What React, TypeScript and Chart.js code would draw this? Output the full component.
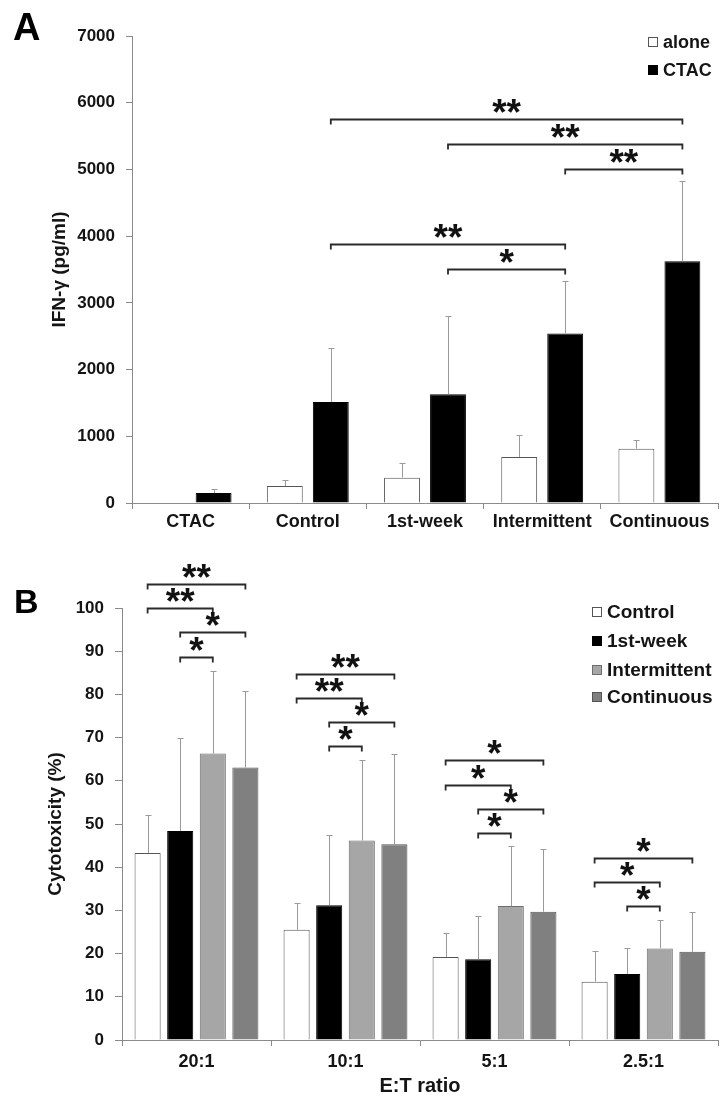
import React, { useEffect, useRef } from 'react';
import { Chart, registerables } from 'chart.js';

Chart.register(...registerables);

const FONT = '"Liberation Sans", Arial, Helvetica, sans-serif';

// ---------- Panel A data ----------
const aCategories = ['CTAC', 'Control', '1st-week', 'Intermittent', 'Continuous'];
const aSeriesNames = ['alone', 'CTAC'];
const aAlone = [0, 255, 380, 690, 815];
const aAloneErr = [0, 85, 220, 325, 125];
const aCtac = [150, 1515, 1630, 2540, 3625];
const aCtacErr = [65, 810, 1170, 785, 1200];
// [fromCategory, toCategory, yValue, label] (between CTAC bars)
const aBrackets: [number, number, number, string][] = [
  [1, 4, 5750, '**'],
  [2, 4, 5380, '**'],
  [3, 4, 5010, '**'],
  [1, 3, 3880, '**'],
  [2, 3, 3510, '*'],
];

// ---------- Panel B data ----------
const bCategories = ['20:1', '10:1', '5:1', '2.5:1'];
const bSeriesNames = ['Control', '1st-week', 'Intermittent', 'Continuous'];
const bControl = [43.3, 25.5, 19.2, 13.5];
const bControlErr = [8.7, 6.3, 5.6, 7.0];
const bFirstWeek = [48.4, 31.2, 18.7, 15.3];
const bFirstWeekErr = [21.6, 16.2, 10.1, 5.9];
const bIntermittent = [66.3, 46.2, 31.0, 21.2];
const bIntermittentErr = [19.2, 18.7, 13.8, 6.6];
const bContinuous = [63.1, 45.3, 29.7, 20.4];
const bContinuousErr = [17.7, 20.8, 14.5, 9.2];
// [category, fromSeries, toSeries, yValue, label]
const bBrackets: [number, number, number, number, string][] = [
  [0, 0, 3, 105.6, '**'],
  [0, 0, 2, 100.0, '**'],
  [0, 1, 3, 94.4, '*'],
  [0, 1, 2, 88.7, '*'],
  [1, 0, 3, 84.7, '**'],
  [1, 0, 2, 79.2, '**'],
  [1, 1, 3, 73.5, '*'],
  [1, 1, 2, 68.0, '*'],
  [2, 0, 3, 64.7, '*'],
  [2, 0, 2, 59.1, '*'],
  [2, 1, 3, 53.4, '*'],
  [2, 1, 2, 47.9, '*'],
  [3, 0, 3, 42.1, '*'],
  [3, 0, 2, 36.6, '*'],
  [3, 1, 2, 31.0, '*'],
];

const TEXT = '#141414';
const AXIS = '#8a8a8a';

const errorBarPlugin = {
  id: 'errorBars',
  afterDatasetsDraw(chart: any) {
    const ctx = chart.ctx;
    const y = chart.scales.y;
    ctx.save();
    ctx.strokeStyle = '#9a9a9a';
    ctx.lineWidth = 1;
    chart.data.datasets.forEach((ds: any, di: number) => {
      const meta = chart.getDatasetMeta(di);
      meta.data.forEach((bar: any, i: number) => {
        const v = ds.data[i];
        const e = ds.errors ? ds.errors[i] : 0;
        if (!e) return;
        const x = Math.round(bar.x) + 0.5;
        const y0 = y.getPixelForValue(v);
        const y1 = Math.round(y.getPixelForValue(v + e)) + 0.5;
        ctx.beginPath();
        ctx.moveTo(x, y0);
        ctx.lineTo(x, y1);
        ctx.moveTo(x - 3, y1);
        ctx.lineTo(x + 3, y1);
        ctx.stroke();
      });
    });
    ctx.restore();
  },
};

function drawBracket(ctx: CanvasRenderingContext2D, x1: number, x2: number, yp: number, label: string) {
  const y = Math.round(yp) + 0.5;
  ctx.beginPath();
  ctx.moveTo(x1, y + 5);
  ctx.lineTo(x1, y);
  ctx.lineTo(x2, y);
  ctx.lineTo(x2, y + 5);
  ctx.stroke();
  ctx.fillText(label, (x1 + x2) / 2, y + 5);
}

function bracketStyle(ctx: CanvasRenderingContext2D) {
  ctx.strokeStyle = '#2a2a2a';
  ctx.lineWidth = 1.8;
  ctx.fillStyle = '#111';
  ctx.font = `bold 37px ${FONT}`;
  ctx.textAlign = 'center';
  ctx.textBaseline = 'alphabetic';
}

const aBracketPlugin = {
  id: 'aBrackets',
  afterDraw(chart: any) {
    const ctx = chart.ctx;
    const y = chart.scales.y;
    const meta = chart.getDatasetMeta(1);
    ctx.save();
    bracketStyle(ctx);
    aBrackets.forEach(([a, b, v, label]) => {
      drawBracket(ctx, meta.data[a].x, meta.data[b].x, y.getPixelForValue(v), label);
    });
    ctx.restore();
  },
};

const bBracketPlugin = {
  id: 'bBrackets',
  afterDraw(chart: any) {
    const ctx = chart.ctx;
    const y = chart.scales.y;
    ctx.save();
    bracketStyle(ctx);
    bBrackets.forEach(([c, s1, s2, v, label]) => {
      const x1 = chart.getDatasetMeta(s1).data[c].x;
      const x2 = chart.getDatasetMeta(s2).data[c].x;
      drawBracket(ctx, x1, x2, y.getPixelForValue(v), label);
    });
    ctx.restore();
  },
};

function legendPlugin(id: string, x: number, rows: number[], size: number, panel: string, px: number, py: number, panelSize: number) {
  return {
    id,
    afterDraw(chart: any) {
      const ctx = chart.ctx;
      ctx.save();
      chart.data.datasets.forEach((ds: any, i: number) => {
        const cy = rows[i];
        ctx.fillStyle = ds.backgroundColor;
        ctx.fillRect(x, cy - 5, 10, 10);
        ctx.strokeStyle = ds.borderColor;
        ctx.lineWidth = 1;
        ctx.strokeRect(x + 0.5, cy - 4.5, 9, 9);
        ctx.fillStyle = TEXT;
        ctx.font = `bold ${size}px ${FONT}`;
        ctx.textAlign = 'left';
        ctx.textBaseline = 'middle';
        ctx.fillText(ds.label, x + 15, cy + 1);
      });
      ctx.fillStyle = '#000';
      ctx.font = `bold ${panelSize}px ${FONT}`;
      ctx.textAlign = 'left';
      ctx.textBaseline = 'alphabetic';
      ctx.fillText(panel, px, py);
      ctx.restore();
    },
  };
}

const tickFont = (size: number) => ({ family: FONT, size, weight: 'bold' as const });
const plain = (v: any) => String(v);

function makeConfigA(): any {
  return {
    type: 'bar',
    data: {
      labels: aCategories,
      datasets: [
        { label: aSeriesNames[0], data: aAlone, errors: aAloneErr, backgroundColor: '#ffffff', borderColor: '#555555', borderWidth: 1 },
        { label: aSeriesNames[1], data: aCtac, errors: aCtacErr, backgroundColor: '#000000', borderColor: '#000000', borderWidth: 1 },
      ],
    },
    options: {
      responsive: false,
      animation: false,
      layout: { padding: { top: 36, right: 2, left: 0, bottom: 0 } },
      plugins: { legend: { display: false }, tooltip: { enabled: false } },
      datasets: { bar: { categoryPercentage: 0.785, barPercentage: 0.78 } },
      scales: {
        x: {
          ticks: { font: tickFont(18), color: TEXT, padding: 2 },
          grid: { drawOnChartArea: false, tickLength: 6, color: AXIS, offset: true },
          border: { color: AXIS, width: 1 },
          afterFit: (s: any) => { s.height = 27; },
        },
        y: {
          min: 0,
          max: 7000,
          ticks: { stepSize: 1000, font: tickFont(17), color: TEXT, padding: 11, callback: plain },
          grid: { drawOnChartArea: false, tickLength: 6, color: AXIS },
          border: { color: AXIS, width: 1 },
          title: { display: true, text: 'IFN-γ (pg/ml)', font: tickFont(19), color: TEXT, padding: { top: 48, bottom: 0 } },
          afterFit: (s: any) => { s.width = 132; },
        },
      },
    },
    plugins: [errorBarPlugin, aBracketPlugin, legendPlugin('legA', 648, [42, 70], 18, 'A', 13, 40, 38)],
  };
}

function makeConfigB(): any {
  return {
    type: 'bar',
    data: {
      labels: bCategories,
      datasets: [
        { label: bSeriesNames[0], data: bControl, errors: bControlErr, backgroundColor: '#ffffff', borderColor: '#555555', borderWidth: 1 },
        { label: bSeriesNames[1], data: bFirstWeek, errors: bFirstWeekErr, backgroundColor: '#000000', borderColor: '#000000', borderWidth: 1 },
        { label: bSeriesNames[2], data: bIntermittent, errors: bIntermittentErr, backgroundColor: '#a6a6a6', borderColor: '#6e6e6e', borderWidth: 1 },
        { label: bSeriesNames[3], data: bContinuous, errors: bContinuousErr, backgroundColor: '#808080', borderColor: '#555555', borderWidth: 1 },
      ],
    },
    options: {
      responsive: false,
      animation: false,
      layout: { padding: { top: 68, right: 2, left: 0, bottom: 0 } },
      plugins: { legend: { display: false }, tooltip: { enabled: false } },
      datasets: { bar: { categoryPercentage: 0.875, barPercentage: 0.8 } },
      scales: {
        x: {
          ticks: { font: tickFont(18), color: TEXT, padding: 5 },
          grid: { drawOnChartArea: false, tickLength: 6, color: AXIS, offset: true },
          border: { color: AXIS, width: 1 },
          title: { display: true, text: 'E:T ratio', font: tickFont(20), color: TEXT, padding: { top: 0, bottom: 0 } },
          afterFit: (s: any) => { s.height = 58; },
        },
        y: {
          min: 0,
          max: 100,
          ticks: { stepSize: 10, font: tickFont(17), color: TEXT, padding: 11, callback: plain },
          grid: { drawOnChartArea: false, tickLength: 7, color: AXIS },
          border: { color: AXIS, width: 1 },
          title: { display: true, text: 'Cytotoxicity (%)', font: tickFont(19), color: TEXT, padding: { top: 44, bottom: 0 } },
          afterFit: (s: any) => { s.width = 122; },
        },
      },
    },
    plugins: [errorBarPlugin, bBracketPlugin, legendPlugin('legB', 592, [72, 101, 130, 157], 19, 'B', 14, 73, 34)],
  };
}

function ChartBox({ make, top, height }: { make: () => any; top: number; height: number }) {
  const ref = useRef<HTMLCanvasElement>(null);
  useEffect(() => {
    const chart = new Chart(ref.current as HTMLCanvasElement, make());
    return () => chart.destroy();
  }, []);
  return (
    <div style={{ position: 'absolute', left: 0, top, width: 720, height }}>
      <canvas ref={ref} width={720} height={height} style={{ display: 'block' }} />
    </div>
  );
}

export default function App() {
  return (
    <div style={{ position: 'absolute', left: 0, top: 0, width: 720, height: 1098, background: '#ffffff', overflow: 'hidden' }}>
      <ChartBox make={makeConfigA} top={0} height={530} />
      <ChartBox make={makeConfigB} top={540} height={558} />
    </div>
  );
}
